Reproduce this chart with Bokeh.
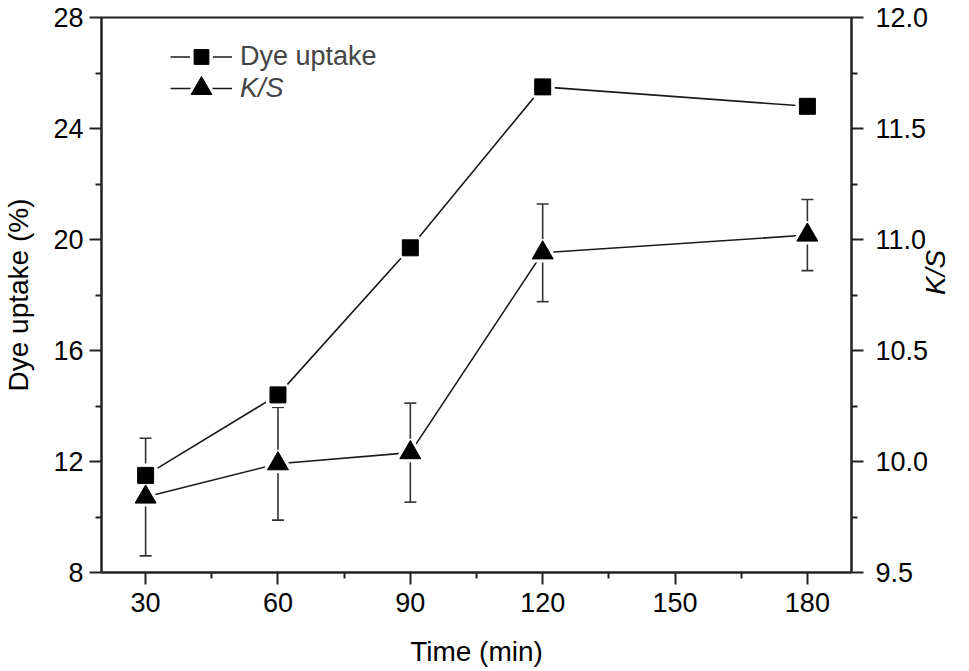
import math
from bokeh.plotting import figure
from bokeh.models import (Range1d, LinearAxis, Legend, LegendItem, Whisker,
                          ColumnDataSource, FixedTicker, TeeHead, PrintfTickFormatter)
from bokeh.embed import file_html
from bokeh.resources import INLINE

# ---- data ----
time_min = [30, 60, 90, 120, 180]
dye_uptake = [11.5, 14.4, 19.7, 25.5, 24.8]
ks_value = [9.84, 9.99, 10.04, 10.94, 11.02]
ks_error = [0.265, 0.254, 0.223, 0.22, 0.16]

x_ticks = [30, 60, 90, 120, 150, 180]
x_minor = [45, 75, 105, 135, 165]
y_ticks = [8, 12, 16, 20, 24, 28]
y_minor = [10, 14, 18, 22, 26]
ks_ticks = [9.5, 10.0, 10.5, 11.0, 11.5, 12.0]
ks_minor = [9.75, 10.25, 10.75, 11.25, 11.75]

FONT = "Liberation Sans"
AX = "#222222"

src_ks = ColumnDataSource(data=dict(
    x=time_min, y=ks_value,
    upper=[v + e for v, e in zip(ks_value, ks_error)],
    lower=[v - e for v, e in zip(ks_value, ks_error)],
))
src_dye = ColumnDataSource(data=dict(x=time_min, y=dye_uptake))

p = figure(width=969, height=671, output_backend="svg", toolbar_location=None,
           x_range=Range1d(20, 190), y_range=Range1d(8, 28),
           min_border_left=98, min_border_right=117, min_border_top=17, min_border_bottom=99,
           background_fill_color="white", border_fill_color="white")
p.extra_y_ranges = {"ks": Range1d(9.5, 12.0)}

p.xgrid.visible = False
p.ygrid.visible = False
p.outline_line_color = AX
p.outline_line_width = 2
p.outline_line_alpha = 1


def style_axis(ax, ticks, minor):
    ax.ticker = FixedTicker(ticks=ticks, minor_ticks=minor)
    ax.axis_line_color = AX
    ax.axis_line_width = 2
    ax.major_tick_line_color = AX
    ax.major_tick_line_width = 2
    ax.minor_tick_line_color = AX
    ax.minor_tick_line_width = 2
    ax.major_tick_out = 12
    ax.major_tick_in = 0
    ax.minor_tick_out = 6
    ax.minor_tick_in = 0
    ax.major_label_text_font = FONT
    ax.major_label_text_font_size = "27px"
    ax.major_label_text_color = "black"
    ax.axis_label_text_font = FONT
    ax.axis_label_text_font_size = "28px"
    ax.axis_label_text_font_style = "normal"
    ax.axis_label_text_color = "black"
    ax.major_label_standoff = 6


style_axis(p.xaxis[0], x_ticks, x_minor)
p.xaxis[0].axis_label = "Time (min)"
p.xaxis[0].major_label_standoff = 8
p.xaxis[0].axis_label_standoff = 21

style_axis(p.yaxis[0], y_ticks, y_minor)
p.yaxis[0].axis_label = "Dye uptake (%)"
p.yaxis[0].axis_label_standoff = 16

rax = LinearAxis(y_range_name="ks", axis_label="K/S")
style_axis(rax, ks_ticks, ks_minor)
rax.formatter = PrintfTickFormatter(format="%.1f")
rax.axis_label_text_font_style = "italic"
rax.axis_label_orientation = math.pi / 2
rax.axis_label_standoff = 4
rax.major_label_standoff = 12
p.add_layout(rax, "right")

LINE = "#1a1a1a"

# lines
dye_line = p.line("x", "y", source=src_dye, line_color=LINE, line_width=1.6)
ks_line = p.line("x", "y", source=src_ks, line_color=LINE, line_width=1.6, y_range_name="ks")

# error bars
wh = Whisker(base="x", upper="upper", lower="lower", source=src_ks, y_range_name="ks",
             line_color="#333333", line_width=1.6,
             upper_head=TeeHead(size=12, line_color="#333333", line_width=1.6),
             lower_head=TeeHead(size=12, line_color="#333333", line_width=1.6))
p.add_layout(wh)

# white halos (gap around markers), then the markers
dye_halo = p.scatter("x", "y", source=src_dye, marker="square", size=16,
                     fill_color="white", line_color="white", line_width=8)
ks_halo = p.scatter("x", "y", source=src_ks, marker="triangle", size=21,
                    fill_color="white", line_color="white", line_width=7, y_range_name="ks")
dye_mk = p.scatter("x", "y", source=src_dye, marker="square", size=16,
                   fill_color="black", line_color="black", line_width=1)
ks_mk = p.scatter("x", "y", source=src_ks, marker="triangle", size=21,
                  fill_color="black", line_color="black", line_width=1, y_range_name="ks")

# legends
leg1 = Legend(items=[LegendItem(label="Dye uptake", renderers=[dye_line, dye_halo, dye_mk])],
              location=(69, 497), padding=0, margin=0, spacing=0,
              glyph_width=62, glyph_height=37, label_standoff=8,
              label_text_font=FONT, label_text_font_size="27px",
              border_line_alpha=0, background_fill_alpha=0)
leg2 = Legend(items=[LegendItem(label="K/S", renderers=[ks_line, ks_halo, ks_mk])],
              location=(69, 458), padding=0, margin=0, spacing=0,
              glyph_width=62, glyph_height=52, label_standoff=8,
              label_text_font=FONT, label_text_font_size="27px",
              label_text_font_style="italic",
              border_line_alpha=0, background_fill_alpha=0)
p.add_layout(leg1)
p.add_layout(leg2)

open("out.html", "w").write(file_html(p, INLINE))
